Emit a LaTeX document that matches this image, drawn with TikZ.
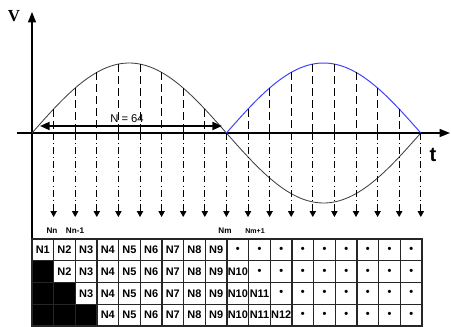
\documentclass[tikz,border=0pt]{standalone}
\usepackage{fontspec}
\setmainfont{Liberation Sans}
\newfontfamily\vfont{Liberation Serif}
\usetikzlibrary{arrows.meta,positioning,calc}
\tikzset{
  axis/.style={-{Triangle[length=2.6mm,width=2mm]}, line width=0.9pt},
  wave/.style={line width=0.6pt, draw=black!75},
  rectwave/.style={line width=0.7pt, draw=blue!75!white},
  upln/.style={line width=0.6pt, dash pattern=on 2mm off 1mm},
  dnln/.style={line width=0.6pt, dash pattern=on 1.7mm off 0.8mm on 0.25mm off 0.8mm,
               -{Triangle[length=1.5mm,width=1.6mm]}},
  span/.style={{Triangle[length=2.4mm,width=2mm]}-{Triangle[length=2.4mm,width=2mm]}, line width=1.3pt},
  cell/.style={rectangle, draw=black!85, line width=1pt, minimum width=5.417mm,
               minimum height=5.437mm, inner sep=0pt, font=\fontsize{7.8}{8}\selectfont\bfseries},
  dark/.style={cell, fill=black},
  smp/.style={font=\fontsize{5.8}{6}\selectfont\bfseries},
}

\begin{document}
\begin{tikzpicture}[x=0.25mm, y=-0.25mm]
\useasboundingbox (0,0) rectangle (451,326);

% ===================== axes =============================================
\coordinate (xs) at (17,133);
\coordinate (xe) at (450,133);
\coordinate (ys) at (32,239);
\coordinate (ye) at (32,12);
\draw[axis] (xs) -- (xe);
\draw[axis] (ys) -- (ye);
\node[font=\vfont\large\bfseries] (vlab) at (14,16) {V};
\node[font=\Large\bfseries] (tlab) at (433,155) {t};

% ===================== the waves ========================================
\draw[wave] plot[domain=32:420.8, samples=120, smooth] (\x, {133-70*sin((\x-32)/194.4*180)});
\draw[rectwave] plot[domain=226.4:420.8, samples=60, smooth] (\x, {133+70*sin((\x-32)/194.4*180)});

% ---- samples: dashed above the axis, dash-dot arrows below --------------
\foreach \k in {1,...,18} {
  \coordinate (t\k) at ({32+21.6*\k},133);
  \coordinate (b\k) at ({32+21.6*\k},217);
  \ifnum\k=9 \else \ifnum\k=18 \else
    \coordinate (s\k) at ({32+21.6*\k},{133-70*abs(sin(20*\k))});
    \draw[upln] (s\k) -- (t\k);
  \fi\fi
  \draw[dnln] (t\k) -- (b\k);
}

% ---- window length -----------------------------------------------------
\coordinate (na) at (40,126);
\coordinate (nb) at (222,126);
\draw[span] (na) -- (nb);
\node[font=\footnotesize] (nlab) at (127,119) {N = 64};

\node[smp] (nn)  at (52,231)  {Nn};
\node[smp] (nn1) at (75,231)  {Nn-1};
\node[smp] (nm)  at (225,231) {Nm};
\node[smp, font=\fontsize{5}{5}\selectfont\bfseries] (nm1) at (255,231) {Nm+1};

% ===================== buffer table =====================================
\foreach \r in {1,...,4} {
  \foreach \c in {1,...,18} {
    \pgfmathsetmacro{\cx}{32+21.667*(\c-0.5)}
    \pgfmathsetmacro{\cy}{239+21.75*(\r-0.5)}
    \ifnum\c<\r
      \node[dark] (c\r-\c) at (\cx,\cy) {};
    \else\ifnum\c>\numexpr8+\r\relax
      \node[cell] (c\r-\c) at (\cx,\cy) {\textbullet};
    \else
      \node[cell] (c\r-\c) at (\cx,\cy) {N\c};
    \fi\fi
  }
}

\end{tikzpicture}
\end{document}
